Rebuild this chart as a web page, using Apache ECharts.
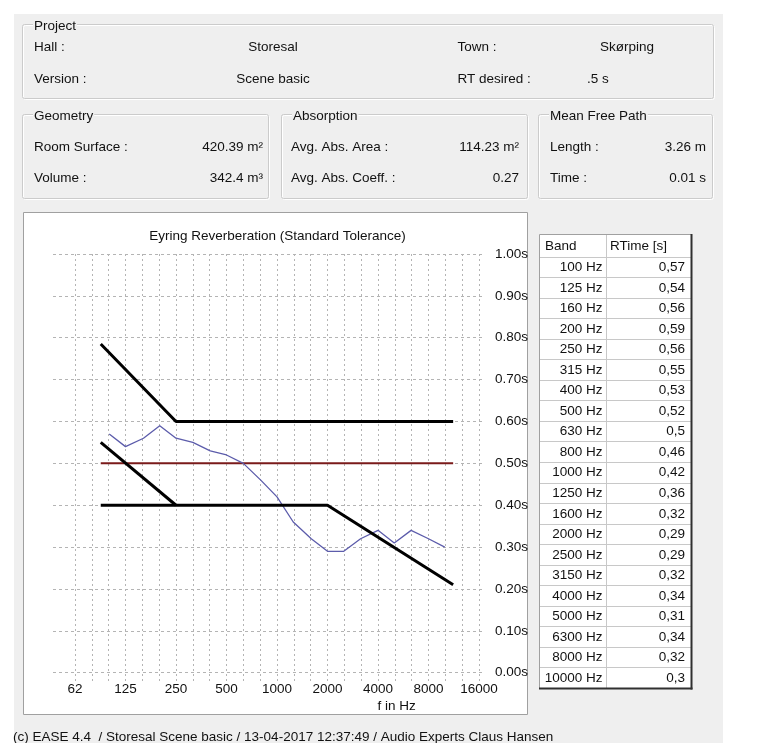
<!DOCTYPE html>
<html><head><meta charset="utf-8">
<script src="https://cdn.jsdelivr.net/npm/echarts@6/dist/echarts.min.js"></script>
<style>html,body{margin:0;padding:0;background:#fff}#c{width:764px;height:743px}</style>
</head><body><div id="c"></div>
<script>
// ---- data ----
const bands = [100,125,160,200,250,315,400,500,630,800,1000,1250,1600,2000,2500,3150,4000,5000,6300,8000,10000];
const rtValues = [0.57,0.54,0.56,0.59,0.56,0.55,0.53,0.52,0.5,0.46,0.42,0.36,0.32,0.29,0.29,0.32,0.34,0.31,0.34,0.32,0.3];
const xTickLabels = ['62','125','250','500','1000','2000','4000','8000','16000'];
const yTickLabels = ['0.00s','0.10s','0.20s','0.30s','0.40s','0.50s','0.60s','0.70s','0.80s','0.90s','1.00s'];
const desiredRT = [[89,0.5],[11220,0.5]];
const upperTol = [[89,0.785],[250,0.6],[11220,0.6]];
const lowerTol = [[89,0.4],[2000,0.4],[11220,0.21]];
const lowFreqTol = [[89,0.55],[250,0.4]];
const projectRows = [['Hall :','Storesal','Town :','Skørping'],['Version :','Scene basic','RT desired :','.5 s']];
const geometryRows = [['Room Surface :','420.39 m²'],['Volume :','342.4 m³']];
const absorptionRows = [['Avg. Abs. Area :','114.23 m²'],['Avg. Abs. Coeff. :','0.27']];
const mfpRows = [['Length :','3.26 m'],['Time :','0.01 s']];
const chartTitle = 'Eyring Reverberation (Standard Tolerance)';
const footer = '(c) EASE 4.4  / Storesal Scene basic / 13-04-2017 12:37:49 / Audio Experts Claus Hansen';

// ---- layout helpers ----
const FONT = '"Liberation Sans", Arial, sans-serif';
const FS = 13.5;
const BG = '#efefef';
const TXT = '#111111';
function txt(x, y, s, align, extra) {
  return {type:'text', x:x, y:y, z:100, style:Object.assign({text:s, fontSize:FS, fontFamily:FONT, fill:TXT,
    align:align||'left', verticalAlign:'middle', textAlign:align||'left', textVerticalAlign:'middle'}, extra||{})};
}
function gbox(x1,y1,x2,y2,title){
  return [
    {type:'rect', z:-5, shape:{x:x1+0.5,y:y1+0.5,width:x2-x1,height:y2-y1,r:2}, style:{fill:'none',stroke:'#ffffff',lineWidth:1}},
    {type:'rect', z:-4, shape:{x:x1-0.5,y:y1-0.5,width:x2-x1,height:y2-y1,r:2}, style:{fill:'none',stroke:'#cbcbcb',lineWidth:1}},
    txt(x1+10, y1+1.5, title, 'left', {backgroundColor:BG, padding:[0,1,0,1]})
  ];
}
const g = [];
g.push({type:'rect', z:-20, shape:{x:14,y:14,width:709,height:729}, style:{fill:BG}});
g.push(...gbox(23,25,714,99,'Project'));
g.push(...gbox(23,115,269,199,'Geometry'));
g.push(...gbox(282,115,528,199,'Absorption'));
g.push(...gbox(539,115,713,199,'Mean Free Path'));
const pY = [47.5, 79];
projectRows.forEach((r,i)=>{
  g.push(txt(34,pY[i],r[0]));
  g.push(txt(273,pY[i],r[1],'center'));
  g.push(txt(457.5,pY[i],r[2]));
  g.push(i===0 ? txt(627,pY[i],r[3],'center') : txt(587,pY[i],r[3]));
});
const sY = [147.5, 178.5];
geometryRows.forEach((r,i)=>{ g.push(txt(34,sY[i],r[0])); g.push(txt(263,sY[i],r[1],'right')); });
absorptionRows.forEach((r,i)=>{ g.push(txt(291,sY[i],r[0])); g.push(txt(519,sY[i],r[1],'right')); });
mfpRows.forEach((r,i)=>{ g.push(txt(550,sY[i],r[0])); g.push(txt(706,sY[i],r[1],'right')); });
// chart frame
g.push({type:'rect', z:-10, shape:{x:23.5,y:212.5,width:504,height:502}, style:{fill:'#ffffff',stroke:'#a0a0a0',lineWidth:1}});
g.push(txt(277.5,236.7,chartTitle,'center'));
g.push(txt(396.7,706.5,'f in Hz','center'));
g.push(txt(13,737,footer));
// table
const tX1=539, tX2=691, tY1=234, tY2=688, colX=606, headH=22.5;
const rowH = (tY2 - tY1 - headH) / bands.length;
g.push({type:'rect', z:-10, shape:{x:tX1+0.5,y:tY1+0.5,width:tX2-tX1,height:tY2-tY1}, style:{fill:'#ffffff',stroke:'#a0a0a0',lineWidth:1}});
g.push({type:'line', z:-2, shape:{x1:tX2+0.5,y1:tY1,x2:tX2+0.5,y2:tY2+1.5}, style:{stroke:'#303030',lineWidth:2}});
g.push({type:'line', z:-2, shape:{x1:tX1,y1:tY2+0.5,x2:tX2+1.5,y2:tY2+0.5}, style:{stroke:'#303030',lineWidth:2}});
g.push({type:'line', z:-3, shape:{x1:colX+0.5,y1:tY1+1,x2:colX+0.5,y2:tY2}, style:{stroke:'#c8c8c8',lineWidth:1}});
for (let i=0;i<bands.length;i++){
  const yb = Math.round(tY1+headH+i*rowH)+0.5;
  g.push({type:'line', z:-3, shape:{x1:tX1+1,y1:yb,x2:tX2,y2:yb}, style:{stroke:'#c8c8c8',lineWidth:1}});
}
g.push(txt(545,tY1+headH/2+1,'Band'));
g.push(txt(610,tY1+headH/2+1,'RTime [s]'));
bands.forEach((f,i)=>{
  const yc = tY1+headH+(i+0.5)*rowH+0.5;
  g.push(txt(602.5,yc,f+' Hz','right'));
  g.push(txt(685,yc,String(rtValues[i]).replace('.',','),'right'));
});

const octLabel = v => { const k = Math.log2(v/62.5); const r = Math.round(k); return Math.abs(k-r) < 0.02 ? (xTickLabels[r]||'') : ''; };
const yLabel = v => yTickLabels[Math.round(v*10)] || '';

const chart = echarts.init(document.getElementById('c'), null, {renderer:'canvas'});
chart.setOption({
  animation:false,
  backgroundColor:'#ffffff',
  graphic:{elements:g},
  grid:[
    {left:75, top:254, width:404, height:427.1},
    {left:53, top:254, width:429, height:418.7}
  ],
  xAxis:[
    {type:'log', logBase:2, gridIndex:0, min:62.5, max:16000, interval:1/3,
     axisLine:{show:false}, axisTick:{show:false},
     splitLine:{show:true, lineStyle:{color:'#b4b4b4', width:1, type:[2,3]}},
     axisLabel:{margin:1, formatter:octLabel, fontSize:FS, fontFamily:FONT, color:TXT, showMinLabel:true, showMaxLabel:true, hideOverlap:false}},
    {type:'value', gridIndex:1, min:0, max:1, show:false}
  ],
  yAxis:[
    {type:'value', gridIndex:0, min:-0.02, max:1, show:false, splitLine:{show:false}},
    {type:'value', gridIndex:1, min:0, max:1, interval:0.1, position:'right',
     axisLine:{show:false}, axisTick:{show:false},
     splitLine:{show:true, lineStyle:{color:'#b4b4b4', width:1, type:[3,3]}},
     axisLabel:{margin:13, formatter:yLabel, fontSize:FS, fontFamily:FONT, color:TXT}}
  ],
  series:[
    {type:'line', xAxisIndex:0, yAxisIndex:0, data:desiredRT, symbol:'none', lineStyle:{color:'#7a1a1a', width:2}, z:3},
    {type:'line', xAxisIndex:0, yAxisIndex:0, data:bands.map((f,i)=>[f,rtValues[i]]), symbol:'none', lineStyle:{color:'#5c5cab', width:1.3}, z:4},
    {type:'line', xAxisIndex:0, yAxisIndex:0, data:upperTol, symbol:'none', lineStyle:{color:'#000000', width:3}, z:5},
    {type:'line', xAxisIndex:0, yAxisIndex:0, data:lowerTol, symbol:'none', lineStyle:{color:'#000000', width:3}, z:5},
    {type:'line', xAxisIndex:0, yAxisIndex:0, data:lowFreqTol, symbol:'none', lineStyle:{color:'#000000', width:3}, z:5}
  ]
});
</script></body></html>
